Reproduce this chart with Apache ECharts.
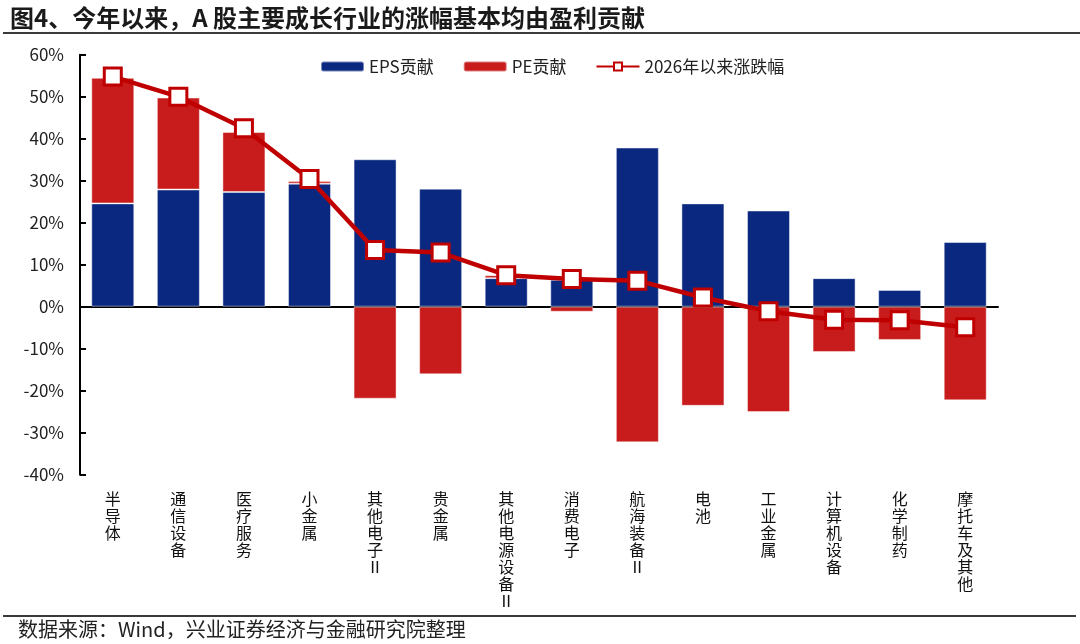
<!DOCTYPE html>
<html lang="zh">
<head>
<meta charset="UTF-8">
<title>图4</title>
<script src="https://cdn.jsdelivr.net/npm/echarts@6/dist/echarts.min.js"></script>
<style>
  html, body { margin: 0; padding: 0; background: #fff; }
</style>
</head>
<body>
<div id="main" style="width:1080px;height:644px;"></div>
<script type="text/javascript">

    var categories = ['半导体', '通信设备', '医疗服务', '小金属', '其他电子Ⅱ', '贵金属', '其他电源设备Ⅱ',
        '消费电子', '航海装备Ⅱ', '电池', '工业金属', '计算机设备', '化学制药', '摩托车及其他'];

    // 单位：%
    var epsData = [24.6, 27.9, 27.3, 29.3, 35.1, 28.1, 6.8, 6.4, 37.9, 24.6, 22.9, 6.8, 4.0, 15.4];
    var peData = [29.9, 21.9, 14.3, 0.6, -21.9, -16.1, 0.7, -1.2, -32.3, -23.6, -25.1, -10.8, -7.9, -22.3];
    var ytdData = [54.8, 50.0, 42.5, 30.4, 13.5, 12.9, 7.5, 6.6, 6.2, 2.2, -1.1, -3.1, -3.2, -4.9];

    var yTicks = {min: -40, max: 60, interval: 10};

    var font = '"Noto Sans CJK SC", "Noto Sans", sans-serif';

    var myChart = echarts.init(document.getElementById('main'));

    var option = {
        backgroundColor: '#fff',
        animation: false,
        textStyle: {fontFamily: font},
        title: {
            text: '图4、今年以来，A 股主要成长行业的涨幅基本均由盈利贡献',
            left: 5,
            top: 1,
            textStyle: {fontSize: 24, fontWeight: 'bold', color: '#1a1a1a', fontFamily: font}
        },
        graphic: [
            {type: 'line', shape: {x1: 3, y1: 33, x2: 1080, y2: 33}, style: {stroke: '#3a3a3a', lineWidth: 2}},
            {type: 'line', shape: {x1: 3, y1: 616, x2: 1076, y2: 616}, style: {stroke: '#3a3a3a', lineWidth: 2}},
            {
                type: 'text', left: 18, top: 619,
                style: {text: '数据来源：Wind，兴业证券经济与金融研究院整理', fontSize: 20, fill: '#222', fontFamily: font}
            }
        ],
        legend: {
            left: 315,
            top: 53,
            itemWidth: 43,
            itemHeight: 10,
            itemGap: 29,
            textStyle: {fontSize: 17, color: '#222', fontFamily: font},
            data: ['EPS贡献', 'PE贡献', '2026年以来涨跌幅']
        },
        grid: {left: 80, right: 82, top: 54.7, bottom: 169.3, containLabel: false},
        xAxis: [
            {
                type: 'category',
                data: categories,
                position: 'bottom',
                axisLine: {show: false, onZero: false},
                axisTick: {show: false},
                axisLabel: {
                    interval: 0,
                    margin: 16,
                    fontSize: 16,
                    lineHeight: 17,
                    color: '#111',
                    verticalAlign: 'top',
                    formatter: function (v) {
                        return v.split('').join('\n');
                    }
                }
            },
            {
                type: 'category',
                data: categories,
                position: 'bottom',
                axisLine: {show: true, onZero: true, lineStyle: {color: '#000', width: 2}},
                axisTick: {show: false},
                axisLabel: {show: false}
            }
        ],
        yAxis: {
            type: 'value',
            min: yTicks.min,
            max: yTicks.max,
            interval: yTicks.interval,
            axisLine: {show: true, lineStyle: {color: '#000', width: 2}},
            axisTick: {show: true, inside: true, length: 6, lineStyle: {color: '#000', width: 2}},
            splitLine: {show: false},
            axisLabel: {
                fontSize: 17,
                color: '#222',
                margin: 16,
                formatter: '{value}%'
            }
        },
        series: [
            {
                name: 'EPS贡献',
                type: 'bar',
                stack: 'total',
                barWidth: 43,
                data: epsData,
                itemStyle: {color: '#0A2880', borderColor: 'rgba(255,255,255,0.45)', borderWidth: 1}
            },
            {
                name: 'PE贡献',
                type: 'bar',
                stack: 'total',
                barWidth: 43,
                data: peData,
                itemStyle: {color: '#C81B1C', borderColor: 'rgba(255,255,255,0.45)', borderWidth: 1}
            },
            {
                name: '2026年以来涨跌幅',
                type: 'line',
                data: ytdData,
                symbol: 'rect',
                symbolSize: 17,
                z: 5,
                lineStyle: {color: '#C00000', width: 4.5},
                itemStyle: {color: '#fff', borderColor: '#C00000', borderWidth: 3}
            }
        ]
    };

    myChart.setOption(option);

</script>
</body>
</html>
